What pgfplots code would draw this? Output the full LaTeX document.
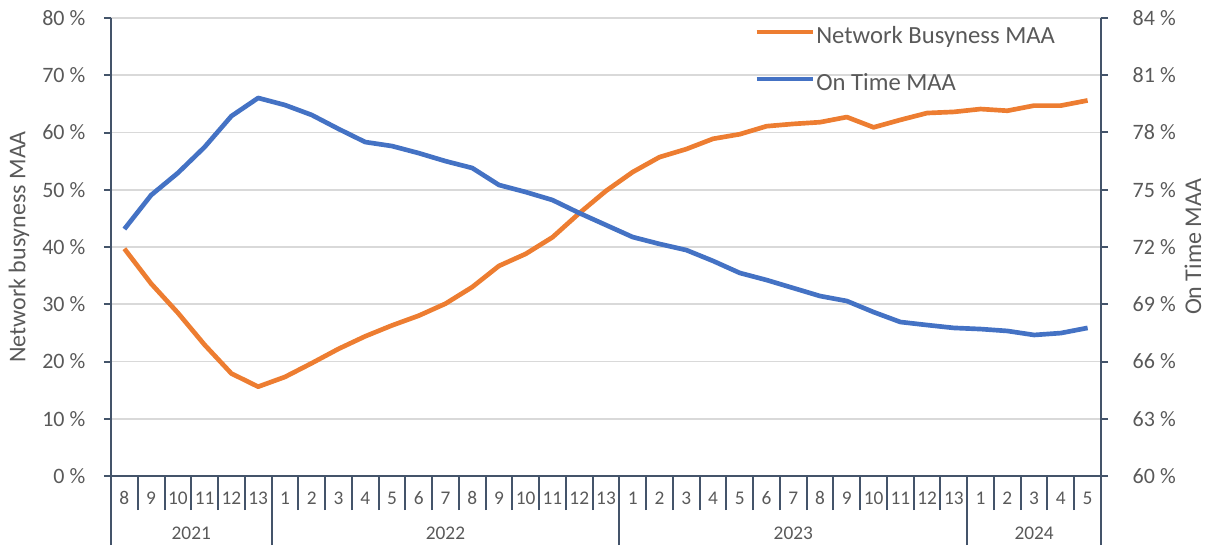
\documentclass[border=0pt]{standalone}
\usepackage{fontspec}
\setmainfont{Carlito}
\usepackage{pgfplots}
\usepackage{pgfplotstable}
\pgfplotsset{compat=1.18}

\definecolor{busyC}{HTML}{ED7D31}
\definecolor{timeC}{HTML}{4472C4}
\definecolor{axisC}{HTML}{44546A}
\definecolor{gridC}{HTML}{D9D9D9}
\definecolor{txtC}{HTML}{595959}

% Moving annual averages by rail period, 2021 P8 to 2024 P5
\pgfplotstableread{
idx busy ontime
0  39.7 72.94
1  33.6 74.72
2  28.5 75.88
3  22.9 77.24
4  17.9 78.86
5  15.6 79.81
6  17.3 79.44
7  19.7 78.92
8  22.2 78.19
9  24.4 77.50
10 26.3 77.29
11 28.0 76.92
12 30.1 76.50
13 33.0 76.14
14 36.7 75.25
15 38.8 74.88
16 41.7 74.46
17 45.9 73.78
18 49.8 73.15
19 53.1 72.52
20 55.7 72.16
21 57.1 71.84
22 58.9 71.27
23 59.7 70.64
24 61.1 70.27
25 61.5 69.85
26 61.8 69.43
27 62.7 69.17
28 60.9 68.59
29 62.2 68.07
30 63.4 67.91
31 63.6 67.76
32 64.1 67.70
33 63.8 67.60
34 64.7 67.39
35 64.7 67.49
36 65.6 67.76
}\datatable

\pgfplotsset{
  base/.style={
    scale only axis,
    width=742.5pt, height=343.5pt,
    xmin=-0.5, xmax=36.5,
    axis line style={axisC, line width=1.5pt},
    tick style={axisC, line width=1.5pt},
    tick align=outside,
    major tick length=5.25pt,
    ticklabel style={text=txtC, font=\fontsize{16.5}{18}\selectfont},
  },
}

\begin{document}
\begin{tikzpicture}
% left axis: network busyness
\begin{axis}[base,
  axis x line*=bottom, axis y line*=left,
  xtick=\empty,
  ymin=0, ymax=80, ytick={0,10,...,80},
  yticklabels={0\ \%,10\ \%,20\ \%,30\ \%,40\ \%,50\ \%,60\ \%,70\ \%,80\ \%},
  yticklabel style={xshift=-10.5pt},
  ymajorgrids, grid style={gridC, line width=1.2pt},
  ylabel={Network busyness MAA},
  ylabel style={at={(axis description cs:0,0.5)}, anchor=center,
    yshift=69pt, text=txtC, font=\fontsize{18}{21}\selectfont},
]
\coordinate (SW) at (rel axis cs:0,0);
\addplot[busyC, line width=3.5pt, line join=round] table[x=idx, y=busy] {\datatable};
\end{axis}

% right axis: on time performance
\begin{axis}[base,
  axis x line*=bottom, axis y line*=right,
  xtick=\empty,
  ymin=60, ymax=84, ytick={60,63,...,84},
  yticklabels={60\ \%,63\ \%,66\ \%,69\ \%,72\ \%,75\ \%,78\ \%,81\ \%,84\ \%},
  yticklabel style={xshift=15pt},
  ylabel={On Time MAA},
  ylabel style={at={(axis description cs:1,0.5)}, anchor=center,
    yshift=-69pt, text=txtC, font=\fontsize{18}{21}\selectfont},
  legend style={at={(axis description cs:0.6495,0.985)}, anchor=north west,
    draw=none, fill=none, inner sep=0pt, row sep=19pt,
    font=\fontsize{18.5}{22}\selectfont, text=txtC,
    nodes={inner sep=1pt}},
  legend cell align=left,
  legend image code/.code={\draw[#1] (0pt,0.3em) -- (42pt,0.3em);},
]
\addlegendimage{busyC, line width=3.5pt}
\addlegendentry{Network Busyness MAA}
\addplot[timeC, line width=3.5pt, line join=round] table[x=idx, y=ontime] {\datatable};
\addlegendentry{On Time MAA}
\end{axis}

% period / year category axis
\begin{axis}[base,
  axis x line*=bottom, axis y line=none,
  ymin=0, ymax=1,
  major tick length=25.5pt,
  xtick={-0.5,0.5,...,35.5},
  xticklabels={8,9,10,11,12,13,1,2,3,4,5,6,7,8,9,10,11,12,13,1,2,3,4,5,6,7,8,9,10,11,12,13,1,2,3,4,5},
  xticklabel style={xshift=10.035pt, yshift=17.25pt, font=\fontsize{14.5}{16}\selectfont},
  extra x ticks={-0.5,5.5,18.5,31.5,36.5},
  extra x tick labels={},
  extra x tick style={major tick length=51.75pt},
  clip=false,
]
\foreach \yr/\c in {2021/2.5, 2022/12, 2023/25, 2024/34}{
  \edef\tmp{\noexpand\node[text=txtC, font=\noexpand\fontsize{14.5}{16}\noexpand\selectfont, anchor=center] at (axis cs:\c,0) [yshift=-42.75pt] {\yr};}
  \tmp
}
\end{axis}

\pgfresetboundingbox
\path[use as bounding box] ([shift={(-83.25pt,-55.5pt)}]SW) rectangle ++(909.75pt,412.5pt);
\end{tikzpicture}
\end{document}
